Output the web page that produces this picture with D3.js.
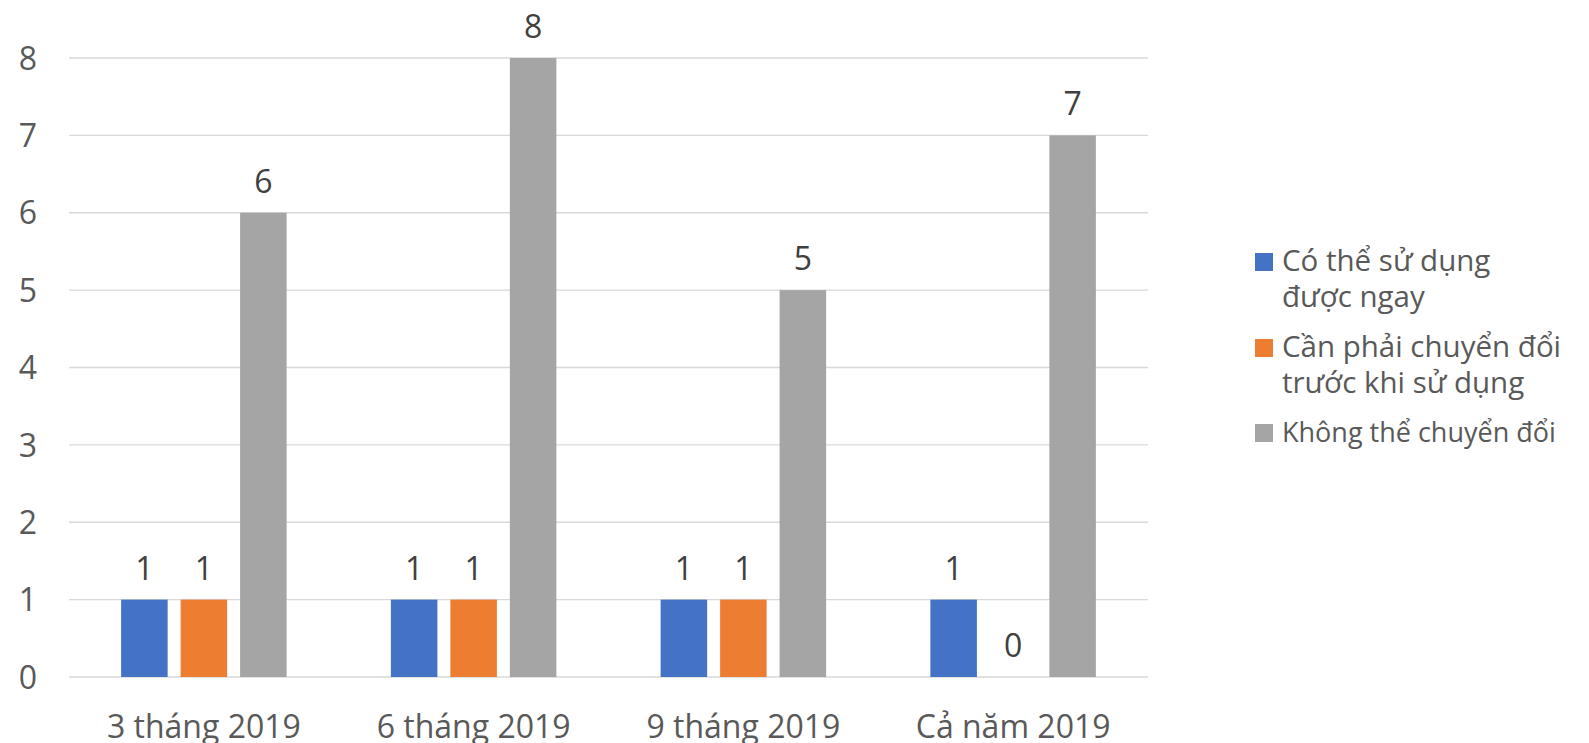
<!DOCTYPE html>
<html>
<head>
<meta charset="utf-8">
<script src="https://cdn.jsdelivr.net/npm/d3@7"></script>
<style>
  body { margin: 0; background: #fff; }
  svg text { font-family: "Open Sans", sans-serif; }
</style>
</head>
<body>
<svg id="chart" width="1589" height="743"></svg>
<script>
// data
var categories = ["3 tháng 2019", "6 tháng 2019", "9 tháng 2019", "Cả năm 2019"];
var seriesNames = ["Có thể sử dụng được ngay", "Cần phải chuyển đổi trước khi sử dụng", "Không thể chuyển đổi"];
var dungNgay = [1, 1, 1, 1];
var chuyenDoi = [1, 1, 1, 0];
var khongThe = [6, 8, 5, 7];
var yTicks = [0, 1, 2, 3, 4, 5, 6, 7, 8];
var colors = ["#4472C4", "#ED7D31", "#A5A5A5"];

var allSeries = [dungNgay, chuyenDoi, khongThe];

var svg = d3.select("#chart");
var mLeft = 69, mRight = 1148, mTop = 58, mBottom = 677;

var x0 = d3.scaleBand().domain(categories).range([mLeft, mRight]).padding(0);
var x1 = d3.scaleBand().domain([0, 1, 2])
  .range([(x0.bandwidth() - 165.5) / 2, (x0.bandwidth() + 165.5) / 2])
  .paddingInner(0.218);
var y = d3.scaleLinear().domain([0, 8]).range([mBottom, mTop]);

// gridlines
svg.append("g")
  .selectAll("line")
  .data(yTicks)
  .join("line")
  .attr("x1", mLeft).attr("x2", mRight)
  .attr("y1", d => y(d)).attr("y2", d => y(d))
  .attr("stroke", "#D9D9D9")
  .attr("stroke-width", 1.3);

// y labels
var yAxis = svg.append("g")
  .attr("transform", "translate(" + (mLeft - 32) + ",0)")
  .call(d3.axisLeft(y).tickValues(yTicks).tickSize(0).tickPadding(0));
yAxis.select(".domain").remove();
yAxis.selectAll("text")
  .attr("font-size", 32)
  .attr("fill", "#595959")
  .attr("text-anchor", "end")
  .attr("dy", "0.35em");

// bars
var groups = svg.append("g")
  .selectAll("g")
  .data(categories)
  .join("g")
  .attr("transform", d => "translate(" + x0(d) + ",0)");

groups.selectAll("rect")
  .data((d, i) => allSeries.map((s, j) => ({s: j, v: s[i]})))
  .join("rect")
  .attr("x", d => x1(d.s))
  .attr("width", x1.bandwidth())
  .attr("y", d => y(d.v))
  .attr("height", d => y(0) - y(d.v))
  .attr("fill", d => colors[d.s]);

groups.selectAll("text.val")
  .data((d, i) => allSeries.map((s, j) => ({s: j, v: s[i]})))
  .join("text")
  .attr("class", "val")
  .attr("x", d => x1(d.s) + x1.bandwidth() / 2)
  .attr("y", d => y(d.v) - 20)
  .attr("text-anchor", "middle")
  .attr("font-size", 32)
  .attr("fill", "#404040")
  .text(d => d.v);

// x labels
var xAxis = svg.append("g")
  .attr("transform", "translate(0," + mBottom + ")")
  .call(d3.axisBottom(x0).tickSize(0).tickPadding(0));
xAxis.select(".domain").remove();
xAxis.selectAll("text")
  .attr("font-size", 32)
  .attr("fill", "#595959")
  .attr("dy", null)
  .attr("y", 61);

// legend
var legendItems = [
  {lines: ["Có thể sử dụng", "được ngay"], y: 271, size: 29.5},
  {lines: ["Cần phải chuyển đổi", "trước khi sử dụng"], y: 357, size: 29.5},
  {lines: ["Không thể chuyển đổi"], y: 442, size: 27}
];
var legend = svg.append("g");
legendItems.forEach(function (item, i) {
  legend.append("rect")
    .attr("x", 1255).attr("y", item.y - 18)
    .attr("width", 18).attr("height", 18)
    .attr("fill", colors[i]);
  var t = legend.append("text")
    .attr("x", 1282).attr("y", item.y)
    .attr("font-size", item.size)
    .attr("fill", "#595959");
  item.lines.forEach(function (ln, k) {
    t.append("tspan").attr("x", 1282).attr("dy", k === 0 ? 0 : 36).text(ln);
  });
});
</script>
</body>
</html>
